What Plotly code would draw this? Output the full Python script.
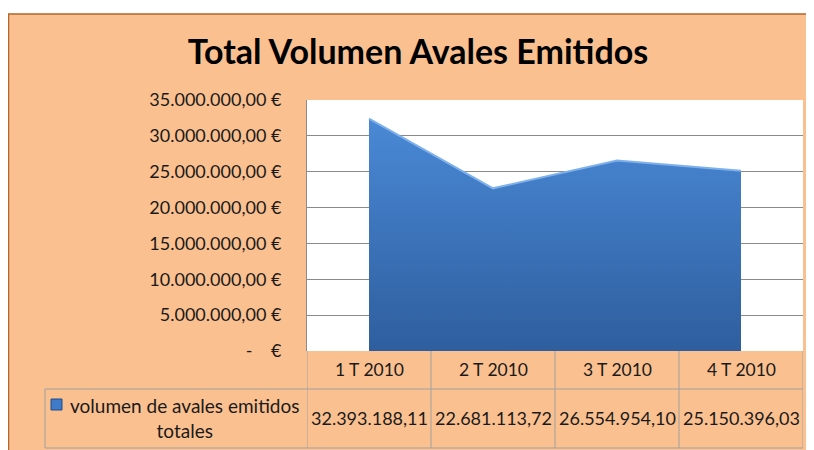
import plotly.graph_objects as go

# data
trimestres = ["1 T 2010", "2 T 2010", "3 T 2010", "4 T 2010"]
volumen = [32393188.11, 22681113.72, 26554954.10, 25150396.03]
serie_nombre = "volumen de avales emitidos<br>totales"
y_ticks = [0, 5e6, 10e6, 15e6, 20e6, 25e6, 30e6, 35e6]
y_labels = ["-\u00a0\u00a0\u00a0\u00a0€", "5.000.000,00 €", "10.000.000,00 €", "15.000.000,00 €",
            "20.000.000,00 €", "25.000.000,00 €", "30.000.000,00 €", "35.000.000,00 €"]

W, H = 814, 450
# plot area in figure pixels (the page adds an 8px body margin)
L, R, T, B = 299, 795, 92, 343
FONT = "Lato"
TXT = "#1a1a1a"


def px(x):
    return (x - L) / (R - L)


def py(y):
    return (B - y) / (B - T)


def es_num(v):
    s = f"{v:,.2f}"
    return s.replace(",", "X").replace(".", ",").replace("X", ".")


fig = go.Figure()

fig.add_trace(go.Scatter(
    x=trimestres,
    y=volumen,
    mode="lines",
    fill="tozeroy",
    line=dict(color="#7eb1ec", width=2),
    fillgradient=dict(type="vertical",
                      colorscale=[[0, "#2e5e9e"], [1, "#4a89d6"]]),
    name=serie_nombre,
    showlegend=False,
))

grid_col = "#8a8a8a"
tab_col = "#a0a0a0"

shapes = [
    # white strip above the chart frame
    dict(type="rect", xref="paper", yref="paper", x0=px(-5), x1=px(W + 5), y0=py(6), y1=py(-5),
         fillcolor="white", line_width=0, layer="below"),
    # chart frame
    dict(type="rect", xref="paper", yref="paper", x0=px(0.5), x1=px(W + 5), y0=py(6), y1=py(H + 5),
         line=dict(color="#b5642c", width=1.5), fillcolor="rgba(0,0,0,0)"),
    # data table
    dict(type="line", xref="paper", yref="paper", x0=px(37), x1=px(R), y0=py(381), y1=py(381),
         line=dict(color=tab_col, width=1)),
    dict(type="line", xref="paper", yref="paper", x0=px(37), x1=px(R), y0=py(440), y1=py(440),
         line=dict(color=tab_col, width=1)),
    dict(type="line", xref="paper", yref="paper", x0=px(37), x1=px(37), y0=py(381), y1=py(440),
         line=dict(color=tab_col, width=1)),
    # legend key
    dict(type="rect", xref="paper", yref="paper", x0=px(43), x1=px(54), y0=py(391), y1=py(402),
         fillcolor="#3f7bc8", line=dict(color="#1f4d8a", width=1)),
]
for i in range(len(trimestres) + 1):
    shapes.append(dict(type="line", xref="x", yref="paper", x0=i - 0.5, x1=i - 0.5,
                       y0=py(B), y1=py(440), line=dict(color=tab_col, width=1)))

annotations = []
for t, v in zip(trimestres, volumen):
    annotations.append(dict(x=t, y=py(361), xref="x", yref="paper", text=t, showarrow=False,
                            yanchor="middle", font=dict(family=FONT, size=17.5, color=TXT)))
    annotations.append(dict(x=t, y=py(410), xref="x", yref="paper", text=es_num(v), showarrow=False,
                            yanchor="middle", font=dict(family=FONT, size=18, color=TXT)))
annotations.append(dict(x=px(177), y=py(410), xref="paper", yref="paper",
                        text=serie_nombre, showarrow=False,
                        align="center", xanchor="center", yanchor="middle",
                        font=dict(family=FONT, size=19, color=TXT)))

fig.update_layout(
    width=W, height=H,
    margin=dict(l=L, r=W - R, t=T, b=H - B),
    paper_bgcolor="#fac090",
    plot_bgcolor="white",
    title=dict(text="<b>Total Volumen Avales Emitidos</b>", xref="container", yref="container",
               x=410 / W, y=1 - 44 / H, xanchor="center", yanchor="middle",
               font=dict(family=FONT, size=34, color="black")),
    xaxis=dict(range=[-0.5, 3.5], showticklabels=False, showgrid=False, zeroline=False,
               showline=False, fixedrange=True),
    yaxis=dict(range=[0, 35e6], tickvals=y_ticks, ticktext=y_labels, showgrid=True,
               gridcolor=grid_col, gridwidth=1, zeroline=False, showline=True,
               linecolor=grid_col, linewidth=1, ticks="", ticklabelstandoff=21,
               tickfont=dict(family=FONT, size=18, color=TXT)),
    shapes=shapes,
    annotations=annotations,
    showlegend=False,
)

fig.write_html("out.html")
